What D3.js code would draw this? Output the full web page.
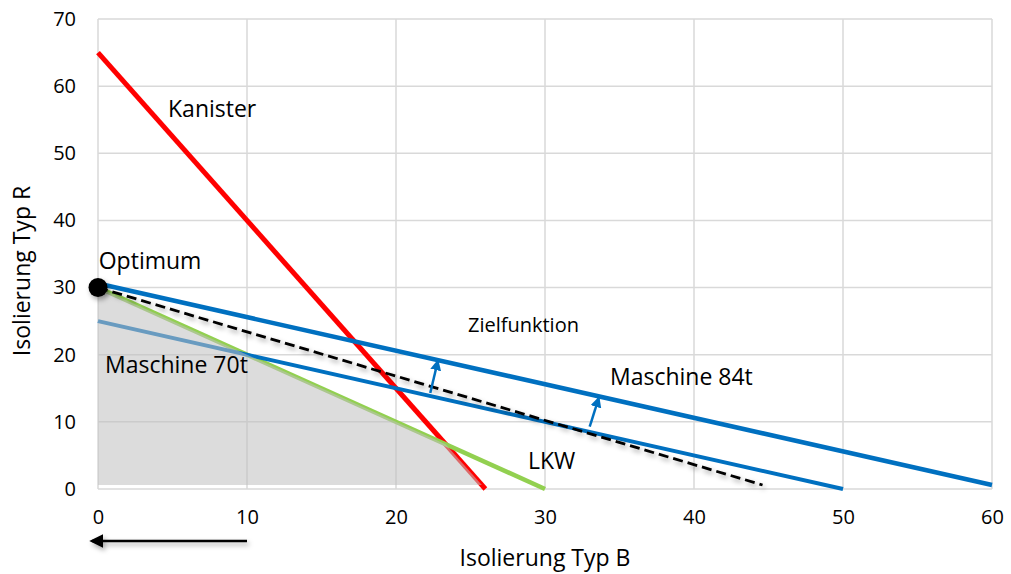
<!DOCTYPE html>
<html>
<head>
<meta charset="utf-8">
<script src="https://cdn.jsdelivr.net/npm/d3@7"></script>
<style>
  body { margin: 0; background: #fff; }
  svg text { font-family: "Open Sans", "Noto Sans", sans-serif; fill: #000; }
</style>
</head>
<body>
<svg id="chart" width="1011" height="574"></svg>
<script>
// axis ticks
const xTicks = [0, 10, 20, 30, 40, 50, 60];
const yTicks = [0, 10, 20, 30, 40, 50, 60, 70];

// constraint lines (Isolierung Typ B, Isolierung Typ R)
const kanister = [[0, 65], [26, 0]];
const lkw = [[0, 30], [30, 0]];
const maschine70 = [[0, 25], [50, 0]];
const maschine84 = [[0, 30.6], [60, 0.6]];
const zielfunktion = [[0, 30], [44.6, 0.6]];
// feasible region
const feasible = [[0, 0.6], [0, 30], [23.33, 6.67], [25.76, 0.6]];
const optimum = [0, 30];
// small arrows (from, to)
const shiftArrows = [
  [[22.3, 14.3], [22.8, 19.0]],
  [[33.0, 9.3], [33.6, 13.5]]
];
const directionArrow = [[10, 0], [-0.4, 0]];

const labels = [
  { text: "Kanister", x: 4.7, y: 55.45, size: 23 },
  { text: "Optimum", x: 0.05, y: 32.8, size: 23 },
  { text: "Maschine 70t", x: 0.47, y: 17.3, size: 23 },
  { text: "Zielfunktion", x: 24.83, y: 23.4, size: 20 },
  { text: "Maschine 84t", x: 34.36, y: 15.5, size: 23 },
  { text: "LKW", x: 28.86, y: 3.0, size: 23 }
];

const svg = d3.select("#chart");
const margin = { left: 98, top: 19 };

const x = d3.scaleLinear().domain([0, 60]).range([margin.left, 992]);
const y = d3.scaleLinear().domain([0, 70]).range([489, margin.top]);

const defs = svg.append("defs");
const shadow = defs.append("filter").attr("id", "shadow")
  .attr("filterUnits", "userSpaceOnUse")
  .attr("x", 0).attr("y", 0).attr("width", 1011).attr("height", 574);
shadow.append("feDropShadow").attr("dx", 2).attr("dy", 3).attr("stdDeviation", 2.5)
  .attr("flood-color", "#000").attr("flood-opacity", 0.35);

defs.append("marker").attr("id", "headBlue")
  .attr("viewBox", "0 0 10 10").attr("refX", 8).attr("refY", 5)
  .attr("markerWidth", 4.4).attr("markerHeight", 4.4).attr("orient", "auto")
  .append("path").attr("d", "M0,0 L10,5 L0,10 Z").attr("fill", "#0070c0");
defs.append("marker").attr("id", "headBlack")
  .attr("viewBox", "0 0 10 10").attr("refX", 8).attr("refY", 5)
  .attr("markerWidth", 5.5).attr("markerHeight", 5.5).attr("orient", "auto")
  .append("path").attr("d", "M0,0 L10,5 L0,10 Z").attr("fill", "#000");

// grid
svg.append("g").selectAll("line").data(xTicks).join("line")
  .attr("x1", d => x(d)).attr("x2", d => x(d))
  .attr("y1", y(0)).attr("y2", y(70))
  .attr("stroke", "#d9d9d9").attr("stroke-width", 1.5);
svg.append("g").selectAll("line").data(yTicks).join("line")
  .attr("x1", x(0)).attr("x2", x(60))
  .attr("y1", d => y(d)).attr("y2", d => y(d))
  .attr("stroke", "#d9d9d9").attr("stroke-width", 1.5);

// axes (labels only)
const xAxis = svg.append("g").attr("transform", `translate(0,${y(0)})`)
  .call(d3.axisBottom(x).tickValues(xTicks).tickSize(0).tickPadding(21));
const yAxis = svg.append("g").attr("transform", `translate(${x(0)},0)`)
  .call(d3.axisLeft(y).tickValues(yTicks).tickSize(0).tickPadding(22));
[xAxis, yAxis].forEach(a => {
  a.select(".domain").remove();
  a.selectAll("text").style("font-size", "20px").style("font-family", "'Open Sans', sans-serif");
});

const line = d3.line().x(d => x(d[0])).y(d => y(d[1]));

svg.append("path").datum(kanister).attr("d", line)
  .attr("stroke", "#ff0000").attr("stroke-width", 5).attr("fill", "none");
svg.append("path").datum(lkw).attr("d", line)
  .attr("stroke", "#92d050").attr("stroke-width", 4.5).attr("fill", "none");
svg.append("path").datum(maschine70).attr("d", line)
  .attr("stroke", "#0070c0").attr("stroke-width", 4).attr("fill", "none");

// feasible region, drawn over the lines
svg.append("path").datum(feasible)
  .attr("d", d => line(d) + "Z")
  .attr("fill", "#bfbfbf").attr("fill-opacity", 0.55);

svg.append("path").datum(maschine84).attr("d", line)
  .attr("stroke", "#0070c0").attr("stroke-width", 4.5).attr("fill", "none");
svg.append("path").datum(zielfunktion).attr("d", line)
  .attr("stroke", "#000").attr("stroke-width", 2.8).attr("stroke-dasharray", "10,5")
  .attr("fill", "none").attr("filter", "url(#shadow)");

svg.append("circle").attr("cx", x(optimum[0])).attr("cy", y(optimum[1])).attr("r", 9.5)
  .attr("fill", "#000").attr("filter", "url(#shadow)");

svg.append("g").selectAll("path").data(shiftArrows).join("path")
  .attr("d", line).attr("stroke", "#0070c0").attr("stroke-width", 2.5)
  .attr("fill", "none").attr("marker-end", "url(#headBlue)");

svg.append("path").datum(directionArrow)
  .attr("d", d => `M${x(d[0][0])},541 L${x(d[1][0])},541`)
  .attr("stroke", "#000").attr("stroke-width", 2.5)
  .attr("marker-end", "url(#headBlack)").attr("filter", "url(#shadow)");

svg.append("g").selectAll("text").data(labels).join("text")
  .attr("x", d => x(d.x)).attr("y", d => y(d.y))
  .style("font-size", d => d.size + "px")
  .text(d => d.text);

svg.append("text").attr("x", 545).attr("y", 566)
  .attr("text-anchor", "middle").style("font-size", "23px")
  .text("Isolierung Typ B");
svg.append("text").attr("transform", "translate(30,271) rotate(-90)")
  .attr("text-anchor", "middle").style("font-size", "23px")
  .text("Isolierung Typ R");
</script>
</body>
</html>
